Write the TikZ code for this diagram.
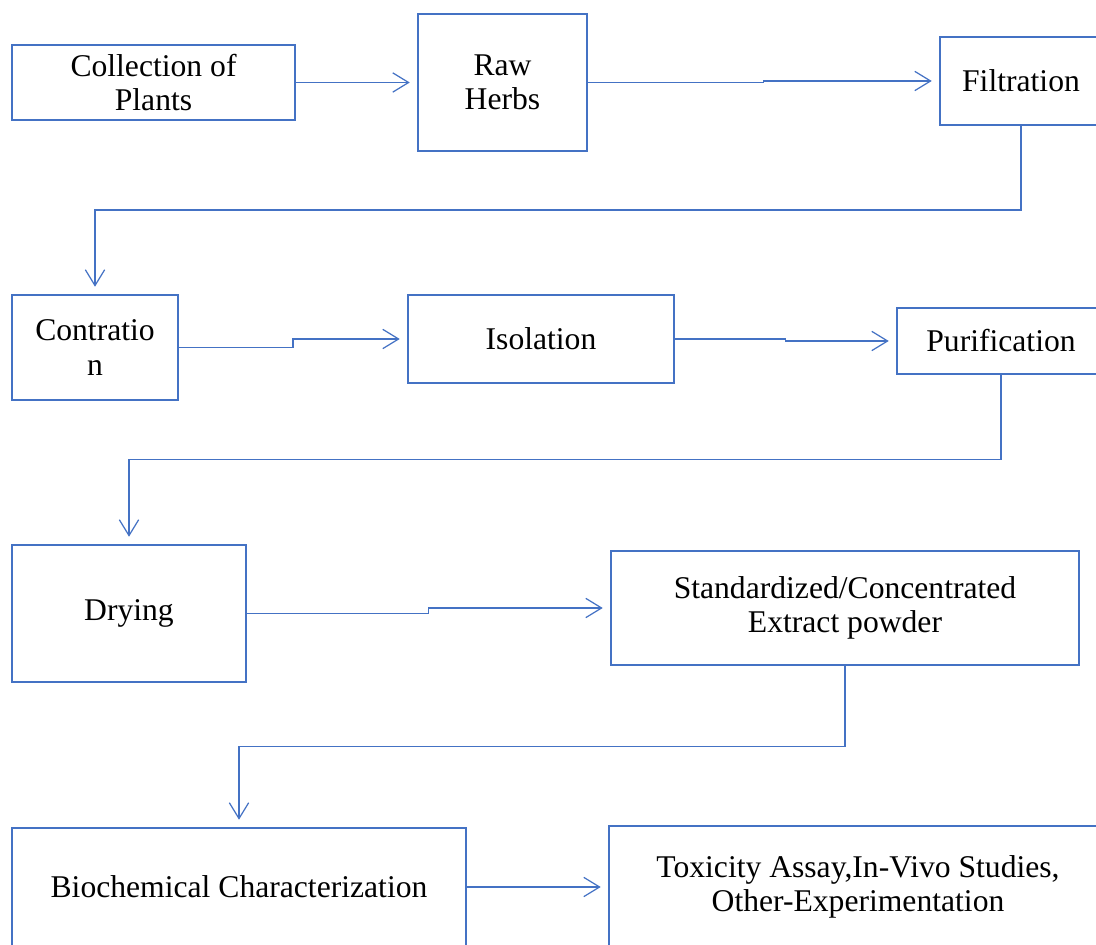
\documentclass[tikz,border=0pt]{standalone}
\usepackage{fontspec}
\setmainfont{Liberation Serif}
\usetikzlibrary{arrows.meta,calc}
\definecolor{boxblue}{HTML}{4472C4}
\begin{document}
\begin{tikzpicture}[x=0.02cm,y=-0.02cm,
  stagebox/.style={draw=boxblue,line width=1.4pt,fill=white,inner sep=0pt,align=center,
    font=\fontsize{18}{19.5}\selectfont},
  flow/.style={draw=boxblue,line width=0.7pt,-{Straight Barb[length=9pt,width=11pt,line width=0.7pt]},shorten >=4pt}]
\useasboundingbox (0,0) rectangle (1096,945);
\clip (0,0) rectangle (1096,945);
\node[stagebox,minimum width=283*0.02cm,minimum height=75*0.02cm] (collect) at (153.5,82.5) {Collection of\\Plants};
\node[stagebox,minimum width=169*0.02cm,minimum height=137*0.02cm] (raw) at (502.5,82.5) {Raw\\Herbs};
\node[stagebox,minimum width=162*0.02cm,minimum height=88*0.02cm] (filt) at (1021,81) {Filtration};
\node[stagebox,minimum width=166*0.02cm,minimum height=105*0.02cm] (contr) at (95,347.5) {Contratio\\n};
\node[stagebox,minimum width=266*0.02cm,minimum height=88*0.02cm] (iso) at (541,339) {Isolation};
\node[stagebox,minimum width=208*0.02cm,minimum height=66*0.02cm] (puri) at (1001,341) {Purification};
\node[stagebox,minimum width=234*0.02cm,minimum height=137*0.02cm] (dry) at (129,613.5) {Drying};
\node[stagebox,minimum width=468*0.02cm,minimum height=114*0.02cm] (std) at (845,608) {Standardized/Concentrated\\Extract powder};
\node[stagebox,minimum width=454*0.02cm,minimum height=118*0.02cm] (bio) at (239,887) {Biochemical Characterization};
\node[stagebox,minimum width=498*0.02cm,minimum height=122*0.02cm] (tox) at (858,887) {Toxicity Assay,In-Vivo Studies,\\Other-Experimentation};
\draw[flow] (collect.east) -- (raw.west);
\draw[flow] (raw.east) -| ($(raw.east)!.5!(filt.west)$) |- (filt.west);
\draw[flow] (filt.south) |- ($(filt.south)!.5!(contr.north)$) -| (contr.north);
\draw[flow] (contr.east) -| ($(contr.east)!.5!(iso.west)$) |- (iso.west);
\draw[flow] (iso.east) -| ($(iso.east)!.5!(puri.west)$) |- (puri.west);
\draw[flow] (puri.south) |- ($(puri.south)!.5!(dry.north)$) -| (dry.north);
\draw[flow] (dry.east) -| ($(dry.east)!.5!(std.west)$) |- (std.west);
\draw[flow] (std.south) |- ($(std.south)!.5!(bio.north)$) -| (bio.north);
\draw[flow] (bio.east) -- (tox.west);
\end{tikzpicture}
\end{document}
